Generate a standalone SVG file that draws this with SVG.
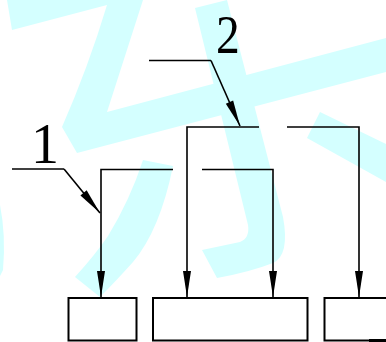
<svg xmlns="http://www.w3.org/2000/svg" width="386" height="342" viewBox="0 0 386 342">
  <style>
    .wm { fill: #d4ffff; stroke: none; }
    .box { fill: none; stroke: #000; stroke-width: 2; }
    .ln { fill: none; stroke: #000; stroke-width: 1.6; }
    .arr { fill: none; stroke: #000; stroke-width: 1.6; marker-end: url(#ah); }
    .lbl { font-family: "Liberation Serif", "DejaVu Serif", serif; font-size: 56px; fill: #000; }
  </style>
  <defs>
    <marker id="ah" markerUnits="userSpaceOnUse" markerWidth="27" markerHeight="9" refX="26" refY="4" orient="auto" overflow="visible">
      <path d="M0,0 L26,4 L0,8 Z" fill="#000"/>
    </marker>
  </defs>
  <rect width="386" height="342" fill="#fff"/>
  <g id="watermark">
    <path class="wm" d="M7,0 L143,0 L107,112 L386,38 L386,72 L77,153 L62,127 Q88,68 107,5 L12,30 Z"/>
    <path class="wm" d="M195,8 L227,0 L283,217 Q290,255 273,263 Q250,272 217,278 L202,250 L240,242 Q250,238 248,225 Z"/>
    <path class="wm" d="M143,160 L173,166 Q160,230 133,262 Q115,282 100,297 L75,277 Q95,255 108,236 Q130,200 143,160 Z"/>
    <path class="wm" d="M320,112 L386,144 L386,182 L307,138 Z"/>
    <path class="wm" d="M0,205 Q6,235 3,270 L0,276 Z"/>
  </g>
  <g id="connectors">
    <path class="ln" d="M12,169 L64,169"/>
    <path class="arr" d="M64,169 L100,213"/>
    <path class="ln" d="M149,60.5 L211,60.5"/>
    <path class="arr" d="M211,60.5 L240,126"/>
    <path class="arr" d="M173,169.5 L101,169.5 L101,297"/>
    <path class="arr" d="M259,127 L187,127 L187,297"/>
    <path class="arr" d="M202,169.5 L273,169.5 L273,297"/>
    <path class="arr" d="M287,127 L359,127 L359,297"/>
  </g>
  <g id="label-1">
    <text class="lbl" x="45" y="163" text-anchor="middle">1</text>
  </g>
  <g id="label-2">
    <text class="lbl" text-anchor="middle" transform="translate(228,53) scale(0.85,1)">2</text>
  </g>
  <g id="box-1">
    <rect class="box" x="68.5" y="298" width="68" height="42.5"/>
  </g>
  <g id="box-2">
    <rect class="box" x="153" y="298" width="154.5" height="42.5"/>
  </g>
  <g id="box-3">
    <rect class="box" x="324.5" y="298" width="80" height="42.5"/>
    <path d="M369,340.5 L386,340.5" stroke="#000" stroke-width="3"/>
  </g>
</svg>
